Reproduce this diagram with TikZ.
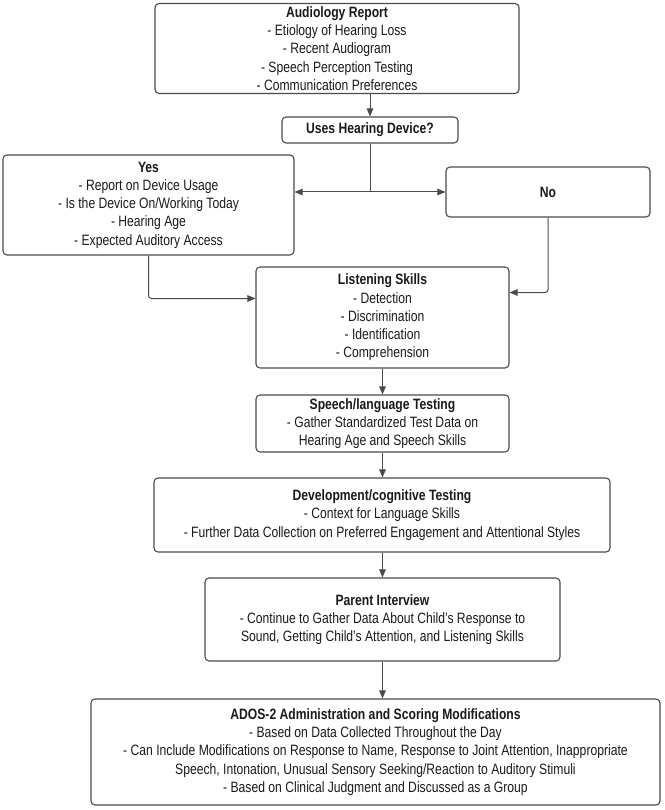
\documentclass[tikz,border=0pt]{standalone}
\usepackage{fontspec}
\setmainfont{Liberation Sans}[FakeStretch=0.81]
\usetikzlibrary{arrows.meta,calc}
\definecolor{edge}{HTML}{4A4A4A}
\definecolor{ink}{HTML}{1A1A1A}
\begin{document}
\begin{tikzpicture}[x=1pt,y=-1pt,
  box/.style={draw=edge,line width=1.1pt,rounded corners=4pt,align=center,
    inner sep=0pt,text=ink,font=\fontsize{15}{18.3}\selectfont},
  conn/.style={draw=edge,line width=1pt,-{Triangle[length=8pt,width=6.5pt]}},
  plain/.style={draw=edge,line width=1pt}]
\useasboundingbox (0,0) rectangle (664,810);
\node[box,minimum width=364pt,minimum height=90pt] (aud) at (337,48.5)
 {\textbf{Audiology Report}\\- Etiology of Hearing Loss\\- Recent Audiogram\\- Speech Perception Testing\\- Communication Preferences};
\node[box,minimum width=176pt,minimum height=26pt] (dev) at (370,130)
 {\textbf{Uses Hearing Device?}};
\node[box,minimum width=291pt,minimum height=100pt] (yes) at (148.5,205)
 {\textbf{Yes}\\- Report on Device Usage\\- Is the Device On/Working Today\\- Hearing Age\\- Expected Auditory Access};
\node[box,minimum width=204pt,minimum height=50pt] (no) at (548,192)
 {\textbf{No}};
\node[box,minimum width=253pt,minimum height=101pt] (listen) at (382.5,317.5)
 {\textbf{Listening Skills}\\- Detection\\- Discrimination\\- Identification\\- Comprehension};
\node[box,minimum width=253pt,minimum height=57pt] (speech) at (382.5,423.5)
 {\textbf{Speech/language Testing}\\- Gather Standardized Test Data on\\Hearing Age and Speech Skills};
\node[box,minimum width=456pt,minimum height=74pt] (devcog) at (382,515)
 {\textbf{Development/cognitive Testing}\\- Context for Language Skills\\- Further Data Collection on Preferred Engagement and Attentional Styles};
\node[box,minimum width=355pt,minimum height=83pt] (parent) at (382.5,619.5)
 {\textbf{Parent Interview}\\- Continue to Gather Data About Child’s Response to\\Sound, Getting Child’s Attention, and Listening Skills};
\node[box,minimum width=569pt,minimum height=106pt] (ados) at (375.5,752)
 {\textbf{ADOS-2 Administration and Scoring Modifications}\\- Based on Data Collected Throughout the Day\\- Can Include Modifications on Response to Name, Response to Joint Attention, Inappropriate\\Speech, Intonation, Unusual Sensory Seeking/Reaction to Auditory Stimuli\\- Based on Clinical Judgment and Discussed as a Group};
\coordinate (br) at (370,192);
\draw[conn] (dev.north |- aud.south) -- (dev.north);
\draw[conn] (dev.south) -- (br) -- (yes.east |- br);
\draw[conn] (br) -- (no.west);
\draw[conn,rounded corners=3pt] (yes.south) |- ([yshift=19pt]listen.west);
\draw[conn,rounded corners=3pt] (no.south) |- ([yshift=25pt]listen.east);
\draw[conn] (listen.south) -- (speech.north);
\draw[conn] (speech.south) -- (speech.south |- devcog.north);
\draw[conn] (speech.south |- devcog.south) -- (speech.south |- parent.north);
\draw[conn] (speech.south |- parent.south) -- (speech.south |- ados.north);
\end{tikzpicture}
\end{document}
